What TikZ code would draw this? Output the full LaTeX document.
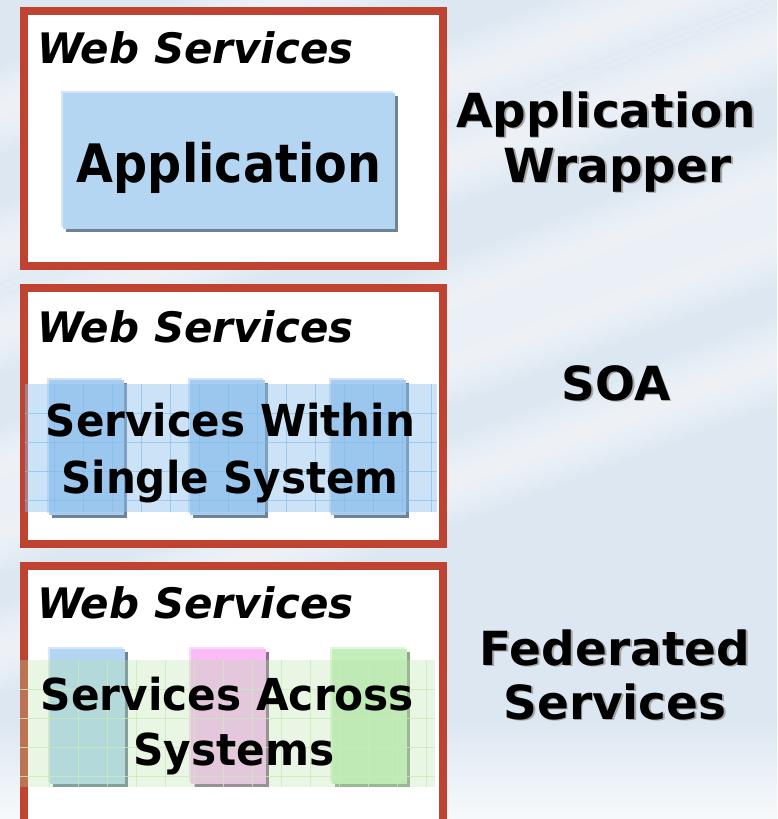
\documentclass[tikz,border=0pt]{standalone}
\usepackage{fontspec}
\usepackage{graphicx}
\setmainfont{DejaVu Sans}
\definecolor{bgc}{HTML}{DCE7F1}
\definecolor{framered}{HTML}{BF4330}
\definecolor{appblue}{HTML}{B4D6F3}
\definecolor{apphi}{HTML}{D4E7F8}
\definecolor{shadowgray}{HTML}{6E8496}
\definecolor{colblue}{HTML}{A7CCEE}
\definecolor{bandblue}{HTML}{8EC3EE}
\definecolor{gridblue}{HTML}{7FB8EA}
\definecolor{fedblue}{HTML}{B3D5F2}
\definecolor{fedpink}{HTML}{F9BCF6}
\definecolor{fedgreen}{HTML}{C4EEBC}
\definecolor{bandgreen}{HTML}{B5E3A5}
\definecolor{gridgreen}{HTML}{C9EBB8}
\definecolor{pinkshadow}{HTML}{8E6E8E}
\definecolor{greenshadow}{HTML}{8FA88A}
\newcommand\shadowed[1]{\leavevmode\rlap{\kern1.8pt\raisebox{-1.8pt}{\textcolor{black!35}{#1}}}#1}
\tikzset{
  frame/.style={draw=framered, line width=8pt, fill=white},
  wslabel/.style={anchor=base west, inner sep=0pt, font=\fontsize{42}{48}\selectfont\bfseries\itshape},
  boxtext/.style={anchor=base, inner sep=0pt, font=\fontsize{44}{50}\selectfont\bfseries},
  sidetext/.style={anchor=base, inner sep=0pt, font=\fontsize{47}{52}\selectfont\bfseries}
}
\newcommand\colblock[5]{%
  \fill[#5] (#1+3,#2+3) rectangle ++(75,135);
  \fill[#3!55!white] (#1-2,#2-2) rectangle ++(75,135);
  \fill[#4] (#1,#2) rectangle ++(75,135);
}
\begin{document}
\begin{tikzpicture}[x=1pt,y=-1pt]
\useasboundingbox (0,0) rectangle (777,819);
\fill[bgc] (0,0) rectangle (777,819);
% diagonal light streaks of the background
\begin{scope}
\clip (0,0) rectangle (777,819);
\foreach \Y in {110,250,330,470,530,650} {
  \foreach \w in {44,38,32,26,20,14,8} {
    \fill[white, opacity=0.11] (0,\Y-\w) -- (777,\Y-290-\w) -- (777,\Y-290+\w) -- (0,\Y+\w) -- cycle;
  }
}
\shade[top color=bgc, bottom color=white!85!bgc, opacity=0.9] (0,715) rectangle (777,819);
\end{scope}

% ---------- frame 1 : Application Wrapper
\draw[frame] (24,10.5) rectangle (443,266);
\node[wslabel] (ws1) at (37,63) {Web Services};
\fill[shadowgray] (66,96) rectangle (398,232);
\fill[apphi] (61,91) rectangle (393,227);
\fill[appblue] (63,93) rectangle (395,229);
\node[boxtext, font=\fontsize{53}{60}\selectfont\bfseries] (app) at (229,182) {\scalebox{0.9}[1]{Application}};

% ---------- frame 2 : SOA
\draw[frame] (24,288) rectangle (443,543.5);
\node[wslabel] (ws2) at (37,342) {Web Services};
\colblock{49}{380}{colblue}{colblue}{shadowgray}
\colblock{190}{380}{colblue}{colblue}{shadowgray}
\colblock{331}{380}{colblue}{colblue}{shadowgray}
\fill[bandblue, opacity=0.45] (25,384) rectangle (437,512);
\foreach \gx in {54,83,112,141,170,199,228,257,286,315,344,373,402,431}
  \draw[gridblue, line width=0.7pt, opacity=0.6] (\gx,384) -- (\gx,512);
\foreach \gy in {413,442,471,500}
  \draw[gridblue, line width=0.7pt, opacity=0.6] (25,\gy) -- (437,\gy);
\node[boxtext] (sw1) at (230.5,436) {\scalebox{0.955}[1]{Services Within}};
\node[boxtext] (sw2) at (230,493) {\scalebox{0.955}[1]{Single System}};

% ---------- frame 3 : Federated Services
\draw[frame] (24,566) rectangle (443,823);
\node[wslabel] (ws3) at (37,618) {Web Services};
\colblock{50}{649}{fedblue}{fedblue}{shadowgray}
\colblock{191}{649}{fedpink}{fedpink}{pinkshadow}
\colblock{332}{649}{fedgreen}{fedgreen}{greenshadow}
\fill[bandgreen, opacity=0.3] (20,660) rectangle (435,787);
\foreach \gx in {49,78,107,136,165,194,223,252,281,310,339,368,397,426}
  \draw[gridgreen, line width=0.7pt, opacity=0.8] (\gx,660) -- (\gx,787);
\foreach \gy in {689,718,747,776}
  \draw[gridgreen, line width=0.7pt, opacity=0.8] (20,\gy) -- (435,\gy);
\node[boxtext] (sa1) at (227.5,710) {\scalebox{0.96}[1]{Services Across}};
\node[boxtext] (sa2) at (234,765) {\scalebox{0.96}[1]{Systems}};

% ---------- side labels
\node[sidetext] (aw1) at (606,127) {\shadowed{Application}};
\node[sidetext] (aw2) at (617.5,182) {\shadowed{Wrapper}};
\node[sidetext] (soa) at (616,400) {\shadowed{SOA}};
\node[sidetext] (fs1) at (615,665) {\shadowed{Federated}};
\node[sidetext] (fs2) at (615,719) {\shadowed{Services}};
\end{tikzpicture}
\end{document}
